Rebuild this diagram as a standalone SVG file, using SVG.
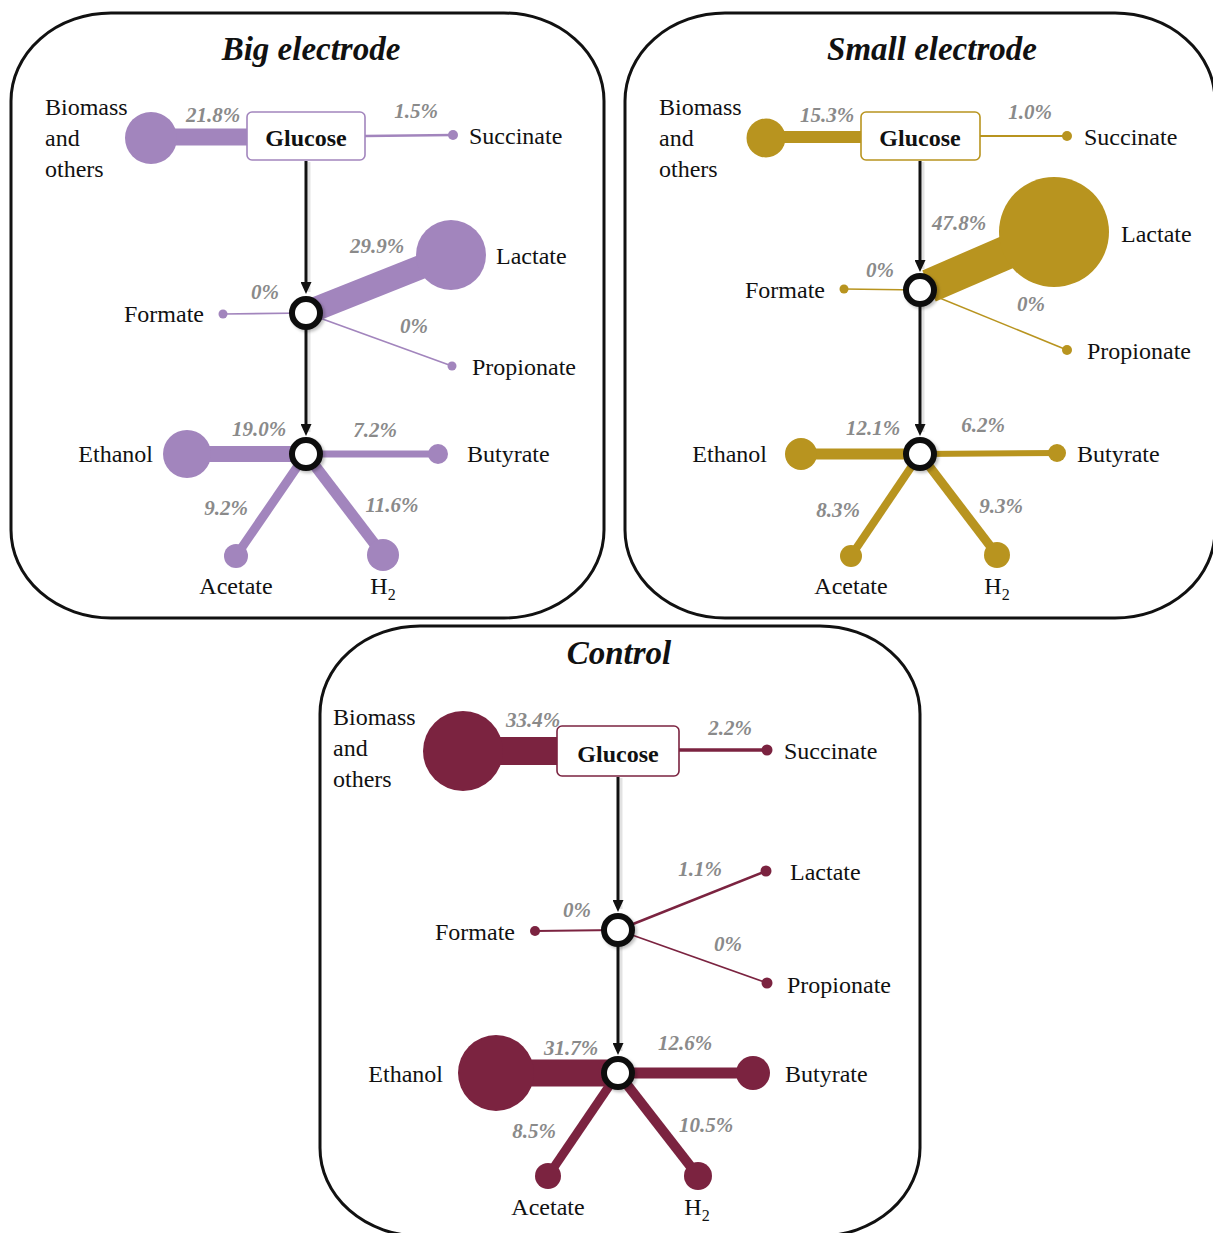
<svg xmlns="http://www.w3.org/2000/svg" width="1213" height="1233" viewBox="0 0 1213 1233">
<defs>
<style>
.frame{fill:none;stroke:#111;stroke-width:3}
.title{font-family:"Liberation Serif",serif;font-weight:bold;font-style:italic;font-size:33px;fill:#111;text-anchor:middle}
.lbl{font-family:"Liberation Serif",serif;font-size:24px;fill:#111}
.end{text-anchor:end}
.mid{text-anchor:middle}
.pct{font-family:"Liberation Serif",serif;font-weight:bold;font-style:italic;font-size:21px;fill:#8a8a8a;text-anchor:middle}
.glu{font-family:"Liberation Serif",serif;font-weight:bold;font-size:24px;fill:#111;text-anchor:middle}
.arrow{stroke:#111;stroke-width:3;fill:none;marker-end:url(#ah)}
.ashadow{stroke:#e2e2e2;stroke-width:3;fill:none}
.junc{fill:#fff;stroke:#111;stroke-width:6}
.bar{fill:none;stroke-linecap:butt}
.pu{stroke:#a285bd}.puf{fill:#a285bd}
.go{stroke:#b8941f}.gof{fill:#b8941f}
.ma{stroke:#7b2340}.maf{fill:#7b2340}
.box{fill:#fff;stroke-width:1.6}
</style>
<marker id="ah" viewBox="0 0 12 11" refX="4" refY="5.5" markerWidth="12" markerHeight="11" markerUnits="userSpaceOnUse" orient="auto">
<path d="M0,0 L12,5.5 L0,11 z" fill="#111"/>
</marker>
<filter id="sh" x="-50%" y="-50%" width="200%" height="200%">
<feDropShadow dx="2" dy="2" stdDeviation="1.5" flood-color="#000" flood-opacity="0.25"/>
</filter>
</defs>

<!-- ===== Panel 1: Big electrode ===== -->
<g id="panel-big">
<rect class="frame" x="11" y="13" width="593" height="605" rx="100" ry="88"/>
<text class="title" x="311" y="60">Big electrode</text>
<g id="big-connectors">
<line class="bar pu" x1="151" y1="137" x2="247" y2="137" stroke-width="17"/>
<line class="bar pu" x1="365" y1="136" x2="453" y2="135" stroke-width="2.5"/>
<line class="bar pu" x1="313" y1="310" x2="451" y2="255" stroke-width="24"/>
<line class="bar pu" x1="306" y1="313" x2="223" y2="314" stroke-width="1.6"/>
<line class="bar pu" x1="306" y1="313" x2="452" y2="366" stroke-width="1.6"/>
<line class="bar pu" x1="306" y1="454" x2="187" y2="454" stroke-width="16"/>
<line class="bar pu" x1="306" y1="454" x2="438" y2="454" stroke-width="7"/>
<line class="bar pu" x1="306" y1="454" x2="236" y2="556" stroke-width="9"/>
<line class="bar pu" x1="306" y1="454" x2="383" y2="555" stroke-width="11"/>
<line class="ashadow" x1="309" y1="162" x2="309" y2="292"/>
<line class="arrow" x1="306" y1="161" x2="306" y2="286"/>
<line class="ashadow" x1="309" y1="330" x2="309" y2="432"/>
<line class="arrow" x1="306" y1="328" x2="306" y2="428"/>
<text class="pct" x="213" y="122">21.8%</text>
<text class="pct" x="416" y="118">1.5%</text>
<text class="pct" x="377" y="253">29.9%</text>
<text class="pct" x="265" y="299">0%</text>
<text class="pct" x="414" y="333">0%</text>
<text class="pct" x="259" y="436">19.0%</text>
<text class="pct" x="375" y="437">7.2%</text>
<text class="pct" x="226" y="515">9.2%</text>
<text class="pct" x="392" y="512">11.6%</text>
</g>
<g id="big-biomass"><circle class="puf" cx="151" cy="138" r="26"/><text class="lbl" x="45" y="115">Biomass</text><text class="lbl" x="45" y="146">and</text><text class="lbl" x="45" y="177">others</text></g>
<g id="big-glucose"><rect class="box pu" x="247" y="112" width="118" height="48" rx="5"/><text class="glu" x="306" y="146">Glucose</text></g>
<g id="big-succinate"><circle class="puf" cx="453" cy="135" r="5"/><text class="lbl" x="469" y="144">Succinate</text></g>
<g id="big-lactate"><circle class="puf" cx="451" cy="255" r="35"/><text class="lbl" x="496" y="264">Lactate</text></g>
<g id="big-formate"><circle class="puf" cx="223" cy="314" r="4.5"/><text class="lbl end" x="204" y="322">Formate</text></g>
<g id="big-propionate"><circle class="puf" cx="452" cy="366" r="4.5"/><text class="lbl" x="472" y="375">Propionate</text></g>
<g id="big-ethanol"><circle class="puf" cx="187" cy="454" r="24"/><text class="lbl end" x="153" y="462">Ethanol</text></g>
<g id="big-butyrate"><circle class="puf" cx="438" cy="454" r="10"/><text class="lbl" x="467" y="462">Butyrate</text></g>
<g id="big-acetate"><circle class="puf" cx="236" cy="556" r="12"/><text class="lbl mid" x="236" y="594">Acetate</text></g>
<g id="big-h2"><circle class="puf" cx="383" cy="555" r="16"/><text class="lbl mid" x="383" y="594">H<tspan font-size="16" dy="6">2</tspan></text></g>
<g id="big-junction1"><circle class="junc" cx="306" cy="313" r="14" filter="url(#sh)"/></g>
<g id="big-junction2"><circle class="junc" cx="306" cy="454" r="14" filter="url(#sh)"/></g>
</g>

<!-- ===== Panel 2: Small electrode ===== -->
<g id="panel-small">
<rect class="frame" x="625" y="13" width="590" height="605" rx="100" ry="88"/>
<text class="title" x="932" y="60">Small electrode</text>
<g id="small-connectors">
<line class="bar go" x1="766" y1="137" x2="861" y2="137" stroke-width="12"/>
<line class="bar go" x1="980" y1="136" x2="1067" y2="136" stroke-width="2"/>
<line class="bar go" x1="929" y1="286" x2="1054" y2="232" stroke-width="34"/>
<line class="bar go" x1="920" y1="290" x2="844" y2="289" stroke-width="1.6"/>
<line class="bar go" x1="920" y1="290" x2="1067" y2="350" stroke-width="1.6"/>
<line class="bar go" x1="920" y1="454" x2="801" y2="454" stroke-width="11"/>
<line class="bar go" x1="920" y1="454" x2="1057" y2="453" stroke-width="6"/>
<line class="bar go" x1="920" y1="454" x2="851" y2="556" stroke-width="8"/>
<line class="bar go" x1="920" y1="454" x2="997" y2="555" stroke-width="9"/>
<line class="ashadow" x1="923" y1="162" x2="923" y2="269"/>
<line class="arrow" x1="920" y1="161" x2="920" y2="264"/>
<line class="ashadow" x1="923" y1="307" x2="923" y2="432"/>
<line class="arrow" x1="920" y1="305" x2="920" y2="428"/>
<text class="pct" x="827" y="122">15.3%</text>
<text class="pct" x="1030" y="119">1.0%</text>
<text class="pct" x="959" y="230">47.8%</text>
<text class="pct" x="880" y="277">0%</text>
<text class="pct" x="1031" y="311">0%</text>
<text class="pct" x="873" y="435">12.1%</text>
<text class="pct" x="983" y="432">6.2%</text>
<text class="pct" x="838" y="517">8.3%</text>
<text class="pct" x="1001" y="513">9.3%</text>
</g>
<g id="small-biomass"><circle class="gof" cx="766" cy="138" r="19.5"/><text class="lbl" x="659" y="115">Biomass</text><text class="lbl" x="659" y="146">and</text><text class="lbl" x="659" y="177">others</text></g>
<g id="small-glucose"><rect class="box go" x="861" y="112" width="119" height="48" rx="5"/><text class="glu" x="920" y="146">Glucose</text></g>
<g id="small-succinate"><circle class="gof" cx="1067" cy="136" r="5"/><text class="lbl" x="1084" y="145">Succinate</text></g>
<g id="small-lactate"><circle class="gof" cx="1054" cy="232" r="55"/><text class="lbl" x="1121" y="242">Lactate</text></g>
<g id="small-formate"><circle class="gof" cx="844" cy="289" r="4.5"/><text class="lbl end" x="825" y="298">Formate</text></g>
<g id="small-propionate"><circle class="gof" cx="1067" cy="350" r="5"/><text class="lbl" x="1087" y="359">Propionate</text></g>
<g id="small-ethanol"><circle class="gof" cx="801" cy="454" r="16"/><text class="lbl end" x="767" y="462">Ethanol</text></g>
<g id="small-butyrate"><circle class="gof" cx="1057" cy="453" r="9"/><text class="lbl" x="1077" y="462">Butyrate</text></g>
<g id="small-acetate"><circle class="gof" cx="851" cy="556" r="11"/><text class="lbl mid" x="851" y="594">Acetate</text></g>
<g id="small-h2"><circle class="gof" cx="997" cy="555" r="13"/><text class="lbl mid" x="997" y="594">H<tspan font-size="16" dy="6">2</tspan></text></g>
<g id="small-junction1"><circle class="junc" cx="920" cy="290" r="14" filter="url(#sh)"/></g>
<g id="small-junction2"><circle class="junc" cx="920" cy="454" r="14" filter="url(#sh)"/></g>
</g>

<!-- ===== Panel 3: Control ===== -->
<g id="panel-control">
<rect class="frame" x="320" y="626" width="600" height="610" rx="100" ry="88"/>
<text class="title" x="619" y="664">Control</text>
<g id="control-connectors">
<line class="bar ma" x1="463" y1="751" x2="557" y2="751" stroke-width="28"/>
<line class="bar ma" x1="679" y1="750" x2="767" y2="750" stroke-width="3.5"/>
<line class="bar ma" x1="618" y1="930" x2="766" y2="871" stroke-width="2.5"/>
<line class="bar ma" x1="618" y1="930" x2="535" y2="931" stroke-width="2"/>
<line class="bar ma" x1="618" y1="930" x2="767" y2="983" stroke-width="1.6"/>
<line class="bar ma" x1="618" y1="1073" x2="496" y2="1073" stroke-width="27"/>
<line class="bar ma" x1="618" y1="1073" x2="753" y2="1073" stroke-width="11"/>
<line class="bar ma" x1="618" y1="1073" x2="548" y2="1176" stroke-width="9"/>
<line class="bar ma" x1="618" y1="1073" x2="698" y2="1176" stroke-width="10"/>
<line class="ashadow" x1="621" y1="778" x2="621" y2="909"/>
<line class="arrow" x1="618" y1="777" x2="618" y2="904"/>
<line class="ashadow" x1="621" y1="947" x2="621" y2="1051"/>
<line class="arrow" x1="618" y1="945" x2="618" y2="1047"/>
<text class="pct" x="533" y="727">33.4%</text>
<text class="pct" x="730" y="735">2.2%</text>
<text class="pct" x="700" y="876">1.1%</text>
<text class="pct" x="577" y="917">0%</text>
<text class="pct" x="728" y="951">0%</text>
<text class="pct" x="571" y="1055">31.7%</text>
<text class="pct" x="685" y="1050">12.6%</text>
<text class="pct" x="534" y="1138">8.5%</text>
<text class="pct" x="706" y="1132">10.5%</text>
</g>
<g id="control-biomass"><circle class="maf" cx="463" cy="751" r="40"/><text class="lbl" x="333" y="725">Biomass</text><text class="lbl" x="333" y="756">and</text><text class="lbl" x="333" y="787">others</text></g>
<g id="control-glucose"><rect class="box ma" x="557" y="726" width="122" height="50" rx="5"/><text class="glu" x="618" y="762">Glucose</text></g>
<g id="control-succinate"><circle class="maf" cx="767" cy="750" r="5.5"/><text class="lbl" x="784" y="759">Succinate</text></g>
<g id="control-lactate"><circle class="maf" cx="766" cy="871" r="5.5"/><text class="lbl" x="790" y="880">Lactate</text></g>
<g id="control-formate"><circle class="maf" cx="535" cy="931" r="5"/><text class="lbl end" x="515" y="940">Formate</text></g>
<g id="control-propionate"><circle class="maf" cx="767" cy="983" r="5.5"/><text class="lbl" x="787" y="993">Propionate</text></g>
<g id="control-ethanol"><circle class="maf" cx="496" cy="1073" r="38"/><text class="lbl end" x="443" y="1082">Ethanol</text></g>
<g id="control-butyrate"><circle class="maf" cx="753" cy="1073" r="17"/><text class="lbl" x="785" y="1082">Butyrate</text></g>
<g id="control-acetate"><circle class="maf" cx="548" cy="1176" r="13"/><text class="lbl mid" x="548" y="1215">Acetate</text></g>
<g id="control-h2"><circle class="maf" cx="698" cy="1176" r="14"/><text class="lbl mid" x="697" y="1215">H<tspan font-size="16" dy="6">2</tspan></text></g>
<g id="control-junction1"><circle class="junc" cx="618" cy="930" r="14" filter="url(#sh)"/></g>
<g id="control-junction2"><circle class="junc" cx="618" cy="1073" r="14" filter="url(#sh)"/></g>
</g>
</svg>
